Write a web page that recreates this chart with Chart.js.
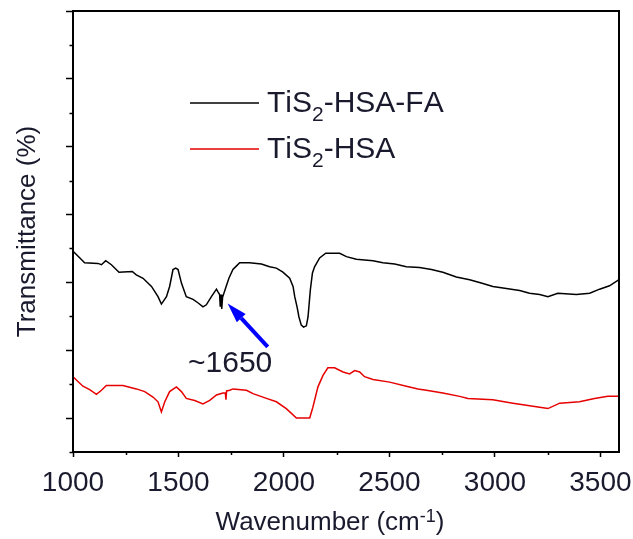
<!DOCTYPE html>
<html>
<head>
<meta charset="utf-8">
<script src="https://cdn.jsdelivr.net/npm/chart.js@4.4.1/dist/chart.umd.min.js"></script>
<style>
  html, body { margin: 0; padding: 0; background: #fff; }
</style>
</head>
<body>
<canvas id="chart" width="633" height="539"></canvas>
<script>
// series names (₂ is drawn as a subscript in the legend)
const seriesNames = ['TiS₂-HSA-FA', 'TiS₂-HSA']

// TiS2-HSA-FA (black)
const faWavenumber = [1000,1016,1055,1118,1135,1155,1182,1218,1281,1300,1332,1372,1403,1419,1443,1458,1474,1487,1498,1514,1537,1569,1592,1616,1632,1656,1680,1687,1695,1698,1702,1705,1709,1727,1739,1758,1774,1790,1837,1893,1932,1964,1995,2027,2043,2051,2062,2071,2082,2093,2106,2114,2125,2135,2145,2169,2198,2264,2296,2343,2422,2469,2525,2580,2643,2699,2753,2817,2880,2935,2990,3054,3117,3164,3212,3251,3298,3386,3449,3496,3543,3588]
const faTransmittance = [2.46,2.41,2.29,2.28,2.26,2.32,2.26,2.15,2.16,2.11,2.06,1.94,1.79,1.68,1.79,1.94,2.19,2.21,2.19,1.99,1.79,1.75,1.70,1.64,1.67,1.79,1.90,1.86,1.82,1.64,1.82,1.61,1.78,1.95,2.06,2.19,2.24,2.29,2.29,2.27,2.23,2.21,2.15,2.06,1.94,1.79,1.64,1.49,1.37,1.34,1.36,1.49,1.89,2.14,2.23,2.36,2.43,2.43,2.38,2.34,2.32,2.29,2.27,2.23,2.22,2.19,2.15,2.08,2.04,1.99,1.94,1.91,1.88,1.84,1.82,1.79,1.84,1.82,1.84,1.90,1.95,2.04]

// TiS2-HSA (red)
const hsaWavenumber = [1000,1047,1079,1111,1135,1158,1237,1300,1340,1379,1403,1419,1435,1458,1490,1514,1537,1577,1616,1648,1680,1711,1722,1725,1728,1743,1758,1822,1853,1917,1964,2011,2059,2122,2137,2161,2185,2208,2240,2280,2311,2335,2359,2382,2422,2501,2580,2635,2675,2753,2833,2872,2990,3085,3149,3212,3251,3307,3401,3472,3535,3588]
const hsaTransmittance = [0.61,0.47,0.42,0.35,0.41,0.48,0.48,0.43,0.39,0.31,0.24,0.09,0.24,0.39,0.46,0.39,0.29,0.26,0.21,0.26,0.34,0.37,0.37,0.27,0.40,0.41,0.43,0.41,0.36,0.29,0.24,0.14,0.00,0.00,0.16,0.46,0.63,0.74,0.74,0.68,0.65,0.70,0.68,0.61,0.57,0.53,0.47,0.43,0.41,0.37,0.32,0.29,0.27,0.22,0.19,0.16,0.14,0.22,0.24,0.29,0.32,0.32]

// ticks
const xMajorTicks = [1000, 1500, 2000, 2500, 3000, 3500]
const xMinorTicks = [1250, 1750, 2250, 2750, 3250]
const yMajorTicks = [0, 1, 2, 3, 4, 5, 6]
const yMinorTicks = [-0.5, 0.5, 1.5, 2.5, 3.5, 4.5, 5.5]

// x axis title, split for the superscript
const xTitleParts = ['Wavenumber (cm', '-1', ')']

// annotation for the ~1650 band
const arrowFrom = { x: 1923, y: 1.05 }
const arrowTo = { x: 1733, y: 1.69 }
const arrowLabel = { x: 1745, y: 0.68, text: '~1650' }

const FONT = 'Arial, "Liberation Sans", sans-serif'
const TEXT_COLOR = '#1a1a2e'

function toPoints(xs, ys) {
  return xs.map((x, i) => ({ x: x, y: ys[i] }))
}

// box frame + minor ticks + x title
const framePlugin = {
  id: 'frame',
  afterDraw(chart) {
    const { ctx, chartArea: a, scales } = chart
    ctx.save()
    ctx.strokeStyle = '#000'
    ctx.lineWidth = 2
    ctx.strokeRect(a.left, a.top, a.right - a.left, a.bottom - a.top)

    ctx.lineWidth = 1.5
    ctx.beginPath()
    xMinorTicks.forEach(v => {
      const px = Math.round(scales.x.getPixelForValue(v)) + 0.5
      ctx.moveTo(px, a.bottom)
      ctx.lineTo(px, a.bottom + 3)
    })
    yMinorTicks.forEach(v => {
      const py = Math.round(scales.y.getPixelForValue(v)) + 0.5
      ctx.moveTo(a.left, py)
      ctx.lineTo(a.left - 3.5, py)
    })
    ctx.stroke()

    // x title with superscript
    const big = '26px ' + FONT
    const small = '18px ' + FONT
    ctx.font = big
    const w0 = ctx.measureText(xTitleParts[0]).width
    const w2 = ctx.measureText(xTitleParts[2]).width
    ctx.font = small
    const w1 = ctx.measureText(xTitleParts[1]).width
    let x = (a.left + a.right) / 2 - 16 - (w0 + w1 + w2) / 2
    const base = a.bottom + 78
    ctx.fillStyle = TEXT_COLOR
    ctx.textAlign = 'left'
    ctx.textBaseline = 'alphabetic'
    ctx.font = big
    ctx.fillText(xTitleParts[0], x, base)
    x += w0
    ctx.font = small
    ctx.fillText(xTitleParts[1], x, base - 8)
    x += w1
    ctx.font = big
    ctx.fillText(xTitleParts[2], x, base)
    ctx.restore()
  }
}

// legend inside the plot, with subscripts
const legendPlugin = {
  id: 'insideLegend',
  afterDraw(chart) {
    const { ctx, chartArea: a } = chart
    ctx.save()
    chart.data.datasets.forEach((ds, i) => {
      const y = a.top + 92 + i * 46
      ctx.strokeStyle = ds.borderColor
      ctx.lineWidth = 1.5
      ctx.beginPath()
      ctx.moveTo(a.left + 117, y)
      ctx.lineTo(a.left + 186, y)
      ctx.stroke()

      let x = a.left + 194
      ctx.fillStyle = TEXT_COLOR
      ctx.textBaseline = 'alphabetic'
      ctx.textAlign = 'left'
      for (const ch of ds.label) {
        if (ch === '₂') {
          ctx.font = '21px ' + FONT
          ctx.fillText('2', x, y + 18)
          x += ctx.measureText('2').width
        } else {
          ctx.font = '30px ' + FONT
          ctx.fillText(ch, x, y + 9)
          x += ctx.measureText(ch).width
        }
      }
    })
    ctx.restore()
  }
}

// blue arrow + label
const arrowPlugin = {
  id: 'arrow',
  afterDraw(chart) {
    const { ctx, scales } = chart
    const x0 = scales.x.getPixelForValue(arrowFrom.x)
    const y0 = scales.y.getPixelForValue(arrowFrom.y)
    const x1 = scales.x.getPixelForValue(arrowTo.x)
    const y1 = scales.y.getPixelForValue(arrowTo.y)
    const ang = Math.atan2(y1 - y0, x1 - x0)
    const headLen = 20
    const headW = 6
    const bx = x1 - headLen * Math.cos(ang)
    const by = y1 - headLen * Math.sin(ang)

    ctx.save()
    ctx.strokeStyle = '#0000ff'
    ctx.fillStyle = '#0000ff'
    ctx.lineWidth = 4
    ctx.beginPath()
    ctx.moveTo(x0, y0)
    ctx.lineTo(bx, by)
    ctx.stroke()
    ctx.beginPath()
    ctx.moveTo(x1, y1)
    ctx.lineTo(bx + headW * Math.sin(ang), by - headW * Math.cos(ang))
    ctx.lineTo(bx - headW * Math.sin(ang), by + headW * Math.cos(ang))
    ctx.closePath()
    ctx.fill()

    ctx.fillStyle = TEXT_COLOR
    ctx.font = '30px ' + FONT
    ctx.textAlign = 'center'
    ctx.textBaseline = 'alphabetic'
    ctx.fillText(arrowLabel.text,
      scales.x.getPixelForValue(arrowLabel.x),
      scales.y.getPixelForValue(arrowLabel.y))
    ctx.restore()
  }
}

new Chart(document.getElementById('chart'), {
  type: 'line',
  data: {
    datasets: [
      {
        label: seriesNames[0],
        data: toPoints(faWavenumber, faTransmittance),
        borderColor: '#000000',
        borderWidth: 1.5,
        pointRadius: 0,
        tension: 0
      },
      {
        label: seriesNames[1],
        data: toPoints(hsaWavenumber, hsaTransmittance),
        borderColor: '#e60000',
        borderWidth: 1.5,
        pointRadius: 0,
        tension: 0
      }
    ]
  },
  options: {
    responsive: false,
    animation: false,
    layout: { padding: { top: 11, right: 14, left: 0, bottom: 0 } },
    plugins: {
      legend: { display: false },
      tooltip: { enabled: false }
    },
    scales: {
      x: {
        type: 'linear',
        min: 1000,
        max: 3588,
        afterBuildTicks: scale => { scale.ticks = xMajorTicks.map(v => ({ value: v })) },
        afterFit: scale => {
          scale.height = 87
          scale.paddingLeft = 0
          scale.paddingRight = 0
        },
        ticks: {
          autoSkip: false,
          maxRotation: 0,
          padding: 9,
          color: TEXT_COLOR,
          font: { family: FONT, size: 28 },
          callback: value => String(value)
        },
        grid: {
          drawOnChartArea: false,
          tickLength: 5,
          tickColor: '#000',
          tickWidth: 1.5
        },
        border: { display: true, color: '#000', width: 2 },
        title: { display: false }
      },
      y: {
        type: 'linear',
        min: -0.5,
        max: 6,
        afterBuildTicks: scale => { scale.ticks = yMajorTicks.map(v => ({ value: v })) },
        afterFit: scale => { scale.width = 73 },
        ticks: { display: false },
        grid: {
          drawOnChartArea: false,
          tickLength: 7,
          tickColor: '#000',
          tickWidth: 1.5
        },
        border: { display: true, color: '#000', width: 2 },
        title: {
          display: true,
          text: 'Transmittance (%)',
          color: TEXT_COLOR,
          font: { family: FONT, size: 26 },
          padding: { top: 12, bottom: 0 }
        }
      }
    }
  },
  plugins: [framePlugin, legendPlugin, arrowPlugin]
})
</script>
</body>
</html>
